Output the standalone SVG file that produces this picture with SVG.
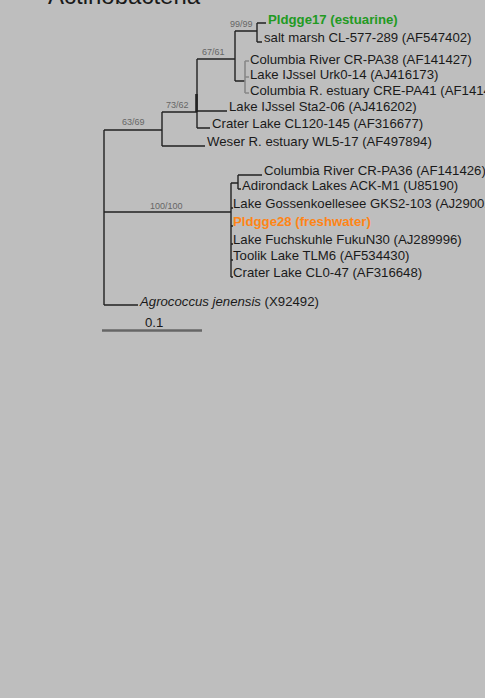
<svg xmlns="http://www.w3.org/2000/svg" width="485" height="698" viewBox="0 0 485 698">
<style>
.t{font-family:"Liberation Sans",Arial,sans-serif;font-size:13.2px;fill:#1a1a1a}
.b{font-weight:bold}
.g{fill:#229a22}
.o{fill:#ff8516}
.l{font-family:"Liberation Sans",Arial,sans-serif;font-size:9px;fill:#666}
.e{stroke:#222;stroke-width:1.4;fill:none}
.gr{stroke:#888;stroke-width:1.6;fill:none}
</style>
<rect width="485" height="698" fill="#bebebe"/>
<text id="title" class="t" x="48" y="4" style="font-size:24px">Actinobacteria</text>
<g id="connectors">
<path class="e" d="M104,130V305M104,130H162M104,212H231M104,305H138"/>
<path class="e" d="M162,112V146M162,112H197M162,146H205"/>
<path class="e" d="M197,59V128M197,59H235M197,111H227M197,128H210"/>
<line x1="196.5" y1="94" x2="196.5" y2="112" stroke="#222" stroke-width="2.6"/>
<path class="e" d="M235,31V81M235,31H257M235,81H245"/>
<path class="e" d="M257,23V42M257,23H266M257,42H262"/>
<path class="gr" d="M245,61V93M245,61H249M245,77H249M245,93H249"/>
<path class="e" d="M231,183V277M231,183H238M231,208H233M231,226H233M231,244H233M231,260H233M231,277H233"/>
<path class="e" d="M238,175V189M238,175H262M238,189H241"/>
<line x1="102" y1="330.5" x2="202" y2="330.5" stroke="#666" stroke-width="2.6"/>
</g>
<g id="labels">
<text class="l" x="230" y="27">99/99</text>
<text class="l" x="202" y="55">67/61</text>
<text class="l" x="166" y="108">73/62</text>
<text class="l" x="122" y="125">63/69</text>
<text class="l" x="150" y="209">100/100</text>
</g>
<g id="n1"><text class="t b g" x="268" y="24">Pldgge17 (estuarine)</text></g>
<g id="n2"><text class="t" x="264" y="42">salt marsh CL-577-289 (AF547402)</text></g>
<g id="n3"><text class="t" x="250" y="64">Columbia River CR-PA38 (AF141427)</text></g>
<g id="n4"><text class="t" x="250" y="79">Lake IJssel Urk0-14 (AJ416173)</text></g>
<g id="n5"><text class="t" x="250" y="95">Columbia R. estuary CRE-PA41 (AF141429)</text></g>
<g id="n6"><text class="t" x="229" y="111">Lake IJssel Sta2-06 (AJ416202)</text></g>
<g id="n7"><text class="t" x="212" y="128">Crater Lake CL120-145 (AF316677)</text></g>
<g id="n8"><text class="t" x="207" y="146">Weser R. estuary WL5-17 (AF497894)</text></g>
<g id="n9"><text class="t" x="264" y="175">Columbia River CR-PA36 (AF141426)</text></g>
<g id="n10"><text class="t" x="242" y="190">Adirondack Lakes ACK-M1 (U85190)</text></g>
<g id="n11"><text class="t" x="233" y="208">Lake Gossenkoellesee GKS2-103 (AJ290025)</text></g>
<g id="n12"><text class="t b o" x="233" y="226">Pldgge28 (freshwater)</text></g>
<g id="n13"><text class="t" x="233" y="244">Lake Fuchskuhle FukuN30 (AJ289996)</text></g>
<g id="n14"><text class="t" x="233" y="260">Toolik Lake TLM6 (AF534430)</text></g>
<g id="n15"><text class="t" x="233" y="277">Crater Lake CL0-47 (AF316648)</text></g>
<g id="n16"><text class="t" x="140" y="306"><tspan font-style="italic">Agrococcus jenensis</tspan> (X92492)</text></g>
<g id="scale"><text class="t" x="145" y="327">0.1</text></g>
</svg>
